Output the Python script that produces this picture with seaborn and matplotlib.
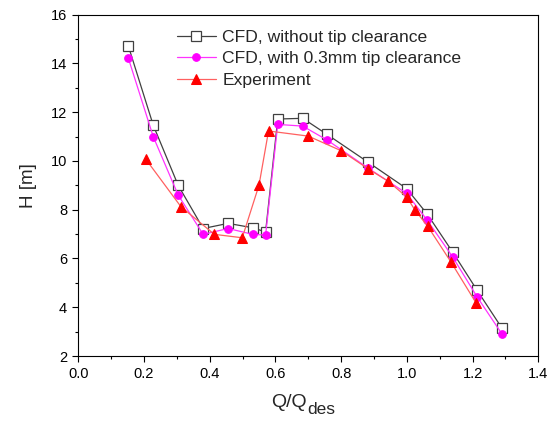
import matplotlib
matplotlib.use("Agg")
import matplotlib.pyplot as plt
import seaborn as sns
import pandas as pd
from matplotlib.ticker import MultipleLocator

# Data
x_cfd = [0.152, 0.228, 0.304, 0.380, 0.456, 0.531, 0.570, 0.607, 0.683, 0.757,
         0.883, 0.999, 1.062, 1.139, 1.214, 1.290]
h_no_tip = [14.73, 11.47, 9.00, 7.23, 7.44, 7.26, 7.09, 11.72, 11.75, 11.09,
            9.94, 8.87, 7.82, 6.27, 4.69, 3.13]
h_tip = [14.23, 11.00, 8.60, 6.99, 7.23, 6.99, 6.96, 11.50, 11.43, 10.86,
         9.70, 8.67, 7.57, 6.07, 4.42, 2.89]
x_exp = [0.205, 0.312, 0.414, 0.499, 0.550, 0.579, 0.700, 0.800, 0.883, 0.943,
         0.999, 1.025, 1.063, 1.134, 1.210]
h_exp = [10.08, 8.13, 6.99, 6.85, 9.01, 11.23, 11.02, 10.42, 9.67, 9.17,
         8.53, 7.98, 7.33, 5.86, 4.19]

labels = ["CFD, without tip clearance", "CFD, with 0.3mm tip clearance", "Experiment"]
xtick_labels = ["0.0", "0.2", "0.4", "0.6", "0.8", "1.0", "1.2", "1.4"]

sns.set_style("ticks")
plt.rcParams['font.family'] = ['Liberation Sans', 'DejaVu Sans']

fig = plt.figure(figsize=(5.56, 4.29), dpi=100)
ax = fig.add_axes([78.3/556, 1-356/429, (538.3-78.3)/556, (356-14.7)/429])

df1 = pd.DataFrame({"x": x_cfd, "y": h_no_tip})
df2 = pd.DataFrame({"x": x_cfd, "y": h_tip})
df3 = pd.DataFrame({"x": x_exp, "y": h_exp})

sns.lineplot(data=df1, x="x", y="y", ax=ax, sort=False, color="#404040", lw=0.9,
             marker="s", markersize=6.8, markerfacecolor="white",
             markeredgecolor="#404040", markeredgewidth=0.9, label=labels[0])
sns.lineplot(data=df2, x="x", y="y", ax=ax, sort=False, color="#ff33ff", lw=0.9,
             marker="o", markersize=5.5, markerfacecolor="#ff00ff",
             markeredgecolor="#ff00ff", label=labels[1])
sns.lineplot(data=df3, x="x", y="y", ax=ax, sort=False, color="#ff6060", lw=0.9,
             marker="^", markersize=7, markerfacecolor="#ff0000",
             markeredgecolor="#ff0000", label=labels[2])

ax.set_xlim(0, 1.4)
ax.set_ylim(2, 16)
ax.set_xticks([0.0, 0.2, 0.4, 0.6, 0.8, 1.0, 1.2, 1.4])
ax.set_xticklabels(xtick_labels)
ax.xaxis.set_minor_locator(MultipleLocator(0.1))
ax.yaxis.set_major_locator(MultipleLocator(2))
ax.yaxis.set_minor_locator(MultipleLocator(1))
ax.tick_params(axis="both", which="major", direction="out", length=4.5, width=0.8,
               labelsize=10.5, color="black", labelcolor="black", pad=3.5)
ax.tick_params(axis="both", which="minor", direction="out", length=2.5, width=0.8, color="black")
for s in ax.spines.values():
    s.set_visible(True)
    s.set_color("black")
    s.set_linewidth(0.8)

ax.set_xlabel("")
ax.set_ylabel("H [m]", fontsize=13.5, labelpad=10)

# x label: "Q/Q" with a large subscript "des"
fig.text(270.7/556, 1-407/429, "Q/Q", fontsize=14, va="baseline", ha="left")
fig.text(307/556, 1-414/429, "des", fontsize=12.5, va="baseline", ha="left")

ax.legend(loc="upper left", bbox_to_anchor=((177-78.3)/460, 0.957), frameon=False,
          fontsize=12.6, handlelength=2.2, handletextpad=0.4, labelspacing=0.36,
          borderaxespad=0, borderpad=0)

fig.savefig("out.png", dpi=100)
